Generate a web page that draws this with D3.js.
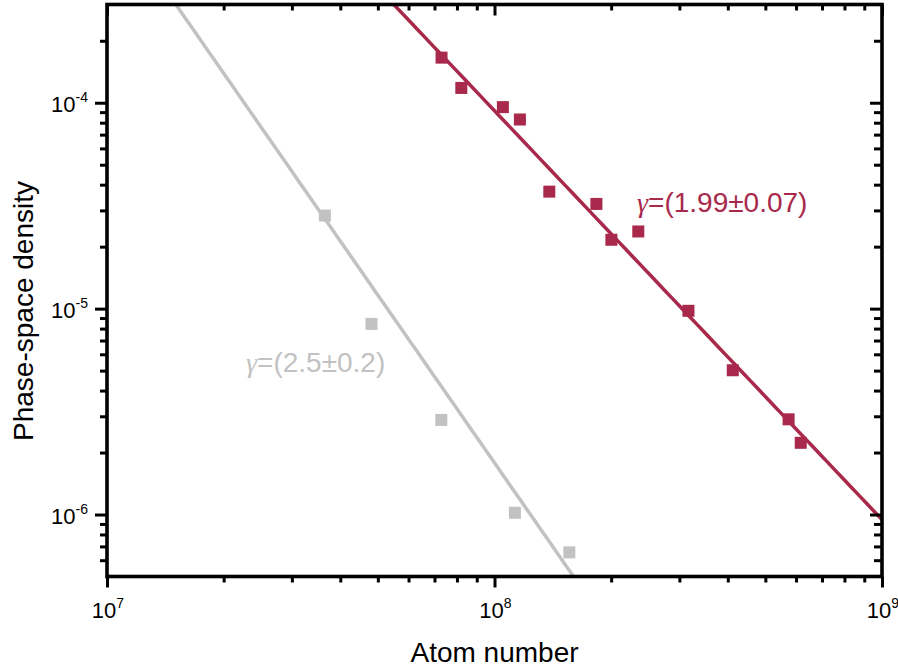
<!DOCTYPE html>
<html><head><meta charset="utf-8">
<script src="https://cdn.jsdelivr.net/npm/d3@7"></script>
<style>body{margin:0;background:#fff}svg{display:block}</style>
</head><body><svg id="c" width="898" height="671"></svg>
<script>
// ---- data ----
const redN   = [7.30e7, 8.21e7, 1.051e8, 1.163e8, 1.385e8, 1.832e8, 2.003e8, 2.35e8, 3.166e8, 4.12e8, 5.74e8, 6.17e8];
const redPSD = [1.656e-4, 1.18e-4, 9.52e-5, 8.29e-5, 3.70e-5, 3.225e-5, 2.16e-5, 2.37e-5, 9.76e-6, 5.02e-6, 2.90e-6, 2.23e-6];
const grayN   = [3.65e7, 4.815e7, 7.29e7, 1.129e8, 1.56e8];
const grayPSD = [2.83e-5, 8.43e-6, 2.88e-6, 1.02e-6, 6.55e-7];
// fits: log10(psd) = intercept + slope * log10(N)
const redFit  = {intercept: 11.849, slope: -1.986};
const grayFit = {intercept: 15.907, slope: -2.707};
const redLabel  = "(1.99±0.07)";
const grayLabel = "(2.5±0.2)";
const xTickExps = [7, 8, 9];
const yTickExps = [-6, -5, -4];
const xDomain = [1e7, 1e9];
const yDomain = [5e-7, 3e-4];
const xTitle = "Atom number";
const yTitle = "Phase-space density";

const RED = "#a8294b", GRAY = "#c2c2c2";
const L = 107, R = 882, T = 4.5, B = 576.5;

const svg = d3.select("#c");
const x = d3.scaleLog().domain(xDomain).range([L, R]);
const y = d3.scaleLog().domain(yDomain).range([B, T]);

const xMajor = xTickExps.map(e => Math.pow(10, e));
const yMajor = yTickExps.map(e => Math.pow(10, e));
const isMajor = v => Math.abs(Math.log10(v) - Math.round(Math.log10(v))) < 1e-9;
const xMinor = x.ticks().filter(v => !isMajor(v));
const yMinor = y.ticks().filter(v => !isMajor(v) && v > yDomain[0] * 1.0001 && v < yDomain[1] * 0.9999);

svg.append("clipPath").attr("id", "clip").append("rect")
  .attr("x", L).attr("y", T).attr("width", R - L).attr("height", B - T);

// fit lines
function fitData(f) {
  const lo = Math.log10(xDomain[0]), hi = Math.log10(xDomain[1]);
  return d3.range(0, 101).map(i => {
    const lx = lo + (hi - lo) * i / 100;
    return [Math.pow(10, lx), Math.pow(10, f.intercept + f.slope * lx)];
  });
}
const line = d3.line().x(d => x(d[0])).y(d => y(d[1]));
const g = svg.append("g").attr("clip-path", "url(#clip)");
g.append("path").attr("d", line(fitData(grayFit))).attr("fill", "none")
  .attr("stroke", GRAY).attr("stroke-width", 3.5);
g.append("path").attr("d", line(fitData(redFit))).attr("fill", "none")
  .attr("stroke", RED).attr("stroke-width", 3.5);

// markers
const S = 12;
g.selectAll("rect.gray").data(grayN.map((n, i) => [n, grayPSD[i]])).join("rect")
  .attr("class", "gray").attr("x", d => x(d[0]) - S / 2).attr("y", d => y(d[1]) - S / 2)
  .attr("width", S).attr("height", S).attr("fill", GRAY);
g.selectAll("rect.red").data(redN.map((n, i) => [n, redPSD[i]])).join("rect")
  .attr("class", "red").attr("x", d => x(d[0]) - S / 2).attr("y", d => y(d[1]) - S / 2)
  .attr("width", S).attr("height", S).attr("fill", RED);

// axes ticks
function styleAxis(sel) {
  sel.select(".domain").remove();
  sel.selectAll("line").attr("stroke", "#000").attr("stroke-width", 3);
  sel.selectAll("text").remove();
}
svg.append("g").attr("transform", `translate(0,${B})`)
  .call(d3.axisBottom(x).tickValues(xMajor).tickSize(11).tickSizeOuter(0)).call(styleAxis);
svg.append("g").attr("transform", `translate(0,${B})`)
  .call(d3.axisBottom(x).tickValues(xMinor).tickSize(6).tickSizeOuter(0)).call(styleAxis);
svg.append("g").attr("transform", `translate(0,${T})`)
  .call(d3.axisTop(x).tickValues(xMajor).tickSize(-11).tickSizeOuter(0)).call(styleAxis);
svg.append("g").attr("transform", `translate(0,${T})`)
  .call(d3.axisTop(x).tickValues(xMinor).tickSize(-6).tickSizeOuter(0)).call(styleAxis);
svg.append("g").attr("transform", `translate(${L},0)`)
  .call(d3.axisLeft(y).tickValues(yMajor).tickSize(12).tickSizeOuter(0)).call(styleAxis);
svg.append("g").attr("transform", `translate(${L},0)`)
  .call(d3.axisLeft(y).tickValues(yMinor).tickSize(7).tickSizeOuter(0)).call(styleAxis);
svg.append("g").attr("transform", `translate(${R},0)`)
  .call(d3.axisRight(y).tickValues(yMajor).tickSize(-12).tickSizeOuter(0)).call(styleAxis);
svg.append("g").attr("transform", `translate(${R},0)`)
  .call(d3.axisRight(y).tickValues(yMinor).tickSize(-8).tickSizeOuter(0)).call(styleAxis);

// frame
svg.append("rect").attr("x", L).attr("y", T).attr("width", R - L).attr("height", B - T)
  .attr("fill", "none").attr("stroke", "#000").attr("stroke-width", 3.6);

const FONT = "Liberation Sans, Arial, sans-serif";
// x tick labels
xTickExps.forEach(e => {
  const t = svg.append("text").attr("x", x(Math.pow(10, e)) + 1).attr("y", 618)
    .attr("text-anchor", "middle").attr("font-family", FONT).attr("font-size", 22).attr("fill", "#000");
  t.append("tspan").text("10");
  t.append("tspan").attr("dy", -10).attr("font-size", 14).text(String(e));
});
// y tick labels
yTickExps.forEach(e => {
  const t = svg.append("text").attr("x", 88).attr("y", y(Math.pow(10, e)) + 9)
    .attr("text-anchor", "end").attr("font-family", FONT).attr("font-size", 22).attr("fill", "#000");
  t.append("tspan").text("10");
  t.append("tspan").attr("dy", -10).attr("font-size", 14).text(String(e));
});

// titles
svg.append("text").attr("x", (L + R) / 2).attr("y", 662).attr("text-anchor", "middle")
  .attr("font-family", FONT).attr("font-size", 28).attr("fill", "#000").text(xTitle);
svg.append("text").attr("transform", "translate(33,311) rotate(-90)").attr("text-anchor", "middle")
  .attr("font-family", FONT).attr("font-size", 28).attr("fill", "#000").text(yTitle);

// annotations
function gammaLabel(px, py, txt, col) {
  const t = svg.append("text").attr("x", px).attr("y", py).attr("font-family", FONT)
    .attr("font-size", 28).attr("fill", col);
  t.append("tspan").attr("font-family", "Liberation Serif, Times New Roman, serif").attr("font-style", "italic").text("γ");
  t.append("tspan").text("=" + txt);
}
gammaLabel(637, 212, redLabel, RED);
gammaLabel(246, 372, grayLabel, GRAY);
</script>
</body></html>
